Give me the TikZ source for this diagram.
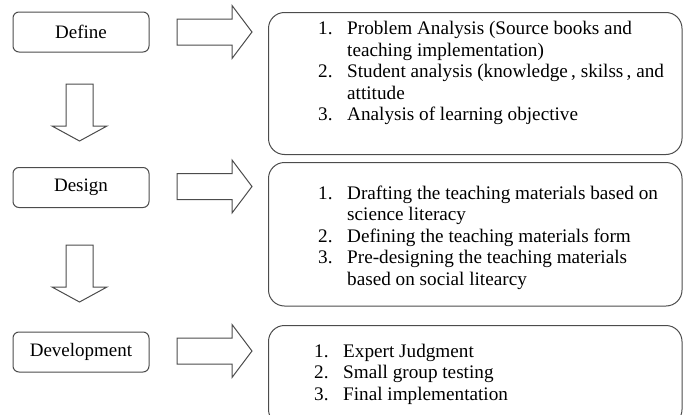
\documentclass[tikz,border=0pt]{standalone}
\usepackage{fontspec}
\setmainfont{Liberation Serif}
\newcommand{\numit}[1]{\makebox[29pt][l]{#1}}
\newcommand{\contit}{\hspace*{29pt}}
\begin{document}
\begin{tikzpicture}[x=1pt,y=-1pt]
\useasboundingbox (0,0) rectangle (683,415);
\tikzset{
  stagebox/.style={draw=black!70, line width=1pt, rounded corners=6pt, minimum width=136pt, minimum height=40pt, inner sep=0pt, font=\fontsize{19}{21}\selectfont},
  panel/.style={draw=black!70, line width=1pt, rounded corners=16pt, inner sep=0pt, anchor=north west},
  blockarrow/.style={draw=black!70, line width=1pt, fill=white, line join=miter},
  itemtext/.style={anchor=base west, align=left, inner sep=0pt, font=\fontsize{19.2}{21.5}\selectfont}
}
% stage boxes
\node[stagebox] (define) at (81,32) {Define};
\node[stagebox] (design) at (81,187.5) {Design};
\node[stagebox] (devel) at (81,352) {Development};
% panels
\node[panel, minimum width=413.5pt, minimum height=142pt] (p1) at (268,12) {};
\node[panel, minimum width=413.5pt, minimum height=143.5pt] (p2) at (268,162) {};
\node[panel, minimum width=413.5pt, minimum height=100pt] (p3) at (268,325) {};
% panel texts (anchored at the baseline of their last line)
\node[itemtext] (t1) at (318,120.5) {\numit{1.}Problem Analysis (Source books and\\
\contit teaching implementation)\\
\numit{2.}Student analysis (knowledge{\,}, skilss{\,}, and\\
\contit attitude\\
\numit{3.}Analysis of learning objective};
\node[itemtext] (t2) at (318,285) {\numit{1.}Drafting the teaching materials based on\\
\contit science literacy\\
\numit{2.}Defining the teaching materials form\\
\numit{3.}Pre-designing the teaching materials\\
\contit based on social litearcy};
\node[itemtext] (t3) at (314,400) {\numit{1.}Expert Judgment\\
\numit{2.}Small group testing\\
\numit{3.}Final implementation};
% right block arrows
\coordinate (r1) at (177,32);
\coordinate (r2) at (177,186.5);
\coordinate (r3) at (177,351);
\foreach \c in {r1,r2,r3}{
  \draw[blockarrow] (\c) ++(0,-13) -- ++(55,0) -- ++(0,-13.5) -- ++(20,26.5) -- ++(-20,26.5) -- ++(0,-13.5) -- ++(-55,0) -- cycle;
}
% down block arrows
\coordinate (d1) at (79.5,84);
\coordinate (d2) at (79.5,245);
\foreach \c in {d1,d2}{
  \draw[blockarrow] (\c) ++(-13.5,0) -- ++(0,42) -- ++(-14,0) -- ++(27.5,15) -- ++(27.5,-15) -- ++(-14,0) -- ++(0,-42) -- cycle;
}
\end{tikzpicture}
\end{document}
